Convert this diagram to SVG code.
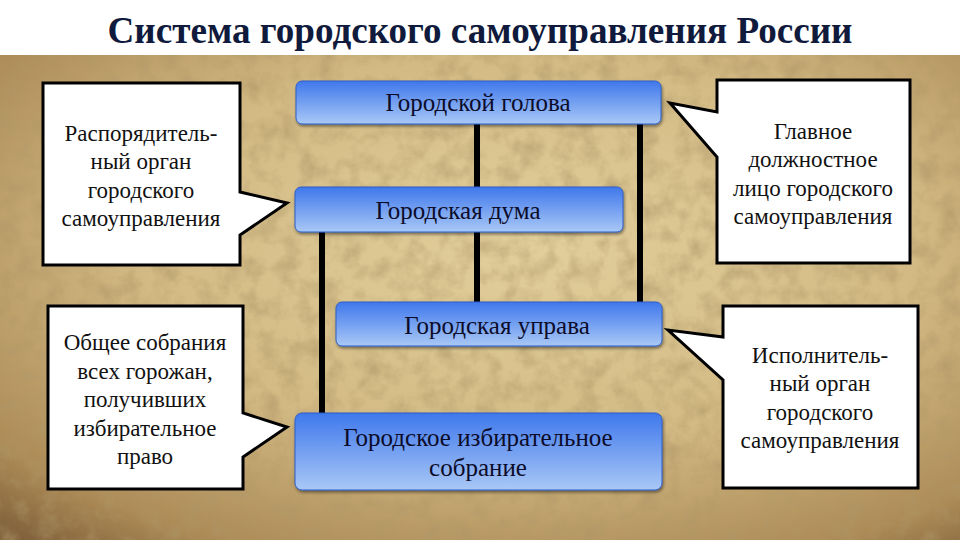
<svg xmlns="http://www.w3.org/2000/svg" width="960" height="540" viewBox="0 0 960 540">
  <defs>
    <radialGradient id="parch" cx="0.55" cy="0.4" r="0.8">
      <stop offset="0" stop-color="#e2cf9c"/>
      <stop offset="0.5" stop-color="#d3ba84"/>
      <stop offset="0.85" stop-color="#ad8b57"/>
      <stop offset="1" stop-color="#80603a"/>
    </radialGradient>
    <linearGradient id="blue" x1="0" y1="0" x2="0" y2="1">
      <stop offset="0" stop-color="#3f78ec"/>
      <stop offset="1" stop-color="#a9c8f6"/>
    </linearGradient>
    <filter id="grain" x="0" y="0" width="100%" height="100%">
      <feTurbulence type="fractalNoise" baseFrequency="0.05" numOctaves="5" seed="11" result="n"/>
      <feColorMatrix in="n" type="matrix" values="0 0 0 0 0.42  0 0 0 0 0.31  0 0 0 0 0.14  0 0 0 1.5 -0.6"/>
    </filter>
    <filter id="shadow" x="-5%" y="-10%" width="110%" height="130%">
      <feDropShadow dx="1" dy="2" stdDeviation="1.5" flood-color="#000" flood-opacity="0.45"/>
    </filter>
    <style>
      text { font-family: "Liberation Serif", Tinos, "Noto Serif", "DejaVu Serif", "Times New Roman", serif; }
      .title { font-weight: bold; font-size: 38px; fill: #101a3c; }
      .node rect { fill: url(#blue); stroke: #2f5fc8; stroke-width: 1; filter: url(#shadow); }
      .node text { font-size: 25px; fill: #0c0c2a; text-anchor: middle; }
      .callout path { fill: #ffffff; stroke: #000000; stroke-width: 3; stroke-linejoin: miter; }
      .callout text { font-size: 23px; fill: #111111; text-anchor: middle; }
      .conn line { stroke: #000000; stroke-width: 6; }
    </style>
  </defs>

  <rect x="0" y="0" width="960" height="540" fill="#ffffff"/>
  <rect x="0" y="55" width="960" height="485" fill="url(#parch)"/>
  <rect x="0" y="55" width="960" height="485" filter="url(#grain)" opacity="0.8"/>

  <text class="title" x="480" y="43" text-anchor="middle" textLength="745" lengthAdjust="spacingAndGlyphs">Система городского самоуправления России</text>

  <g id="connectors" class="conn">
    <line x1="477" y1="120" x2="477" y2="305"/>
    <line x1="640" y1="120" x2="640" y2="305"/>
    <line x1="322" y1="228" x2="322" y2="416"/>
  </g>

  <g id="node-golova" class="node">
    <rect x="296" y="81" width="365" height="43" rx="6"/>
    <text x="478" y="111">Городской голова</text>
  </g>
  <g id="node-duma" class="node">
    <rect x="295" y="187" width="328" height="45" rx="6"/>
    <text x="458" y="219">Городская дума</text>
  </g>
  <g id="node-uprava" class="node">
    <rect x="336" y="302" width="326" height="44" rx="6"/>
    <text x="497" y="334">Городская управа</text>
  </g>
  <g id="node-sobranie" class="node">
    <rect x="295" y="413" width="367" height="77" rx="7"/>
    <text x="478" y="446">Городское избирательное</text>
    <text x="478" y="476">собрание</text>
  </g>

  <g id="callout-duma" class="callout">
    <path d="M43,83 H240 V192 L287,203 L240,235 V265 H43 Z"/>
    <text x="141" y="141">Распорядитель-</text>
    <text x="141" y="169">ный орган</text>
    <text x="141" y="198">городского</text>
    <text x="141" y="226">самоуправления</text>
  </g>
  <g id="callout-golova" class="callout">
    <path d="M717,80 H910 V263 H717 V157 L670,103 L717,112 Z"/>
    <text x="813" y="139">Главное</text>
    <text x="813" y="167">должностное</text>
    <text x="813" y="196">лицо городского</text>
    <text x="813" y="224">самоуправления</text>
  </g>
  <g id="callout-sobranie" class="callout">
    <path d="M48,306 H243 V413 L287,427 L243,457 V489 H48 Z"/>
    <text x="145" y="350">Общее собрания</text>
    <text x="145" y="379">всех горожан,</text>
    <text x="145" y="407">получивших</text>
    <text x="145" y="436">избирательное</text>
    <text x="145" y="464">право</text>
  </g>
  <g id="callout-uprava" class="callout">
    <path d="M723,306 H918 V488 H723 V380 L668,330 L723,337 Z"/>
    <text x="820" y="363">Исполнитель-</text>
    <text x="820" y="391">ный орган</text>
    <text x="820" y="420">городского</text>
    <text x="820" y="448">самоуправления</text>
  </g>
</svg>
